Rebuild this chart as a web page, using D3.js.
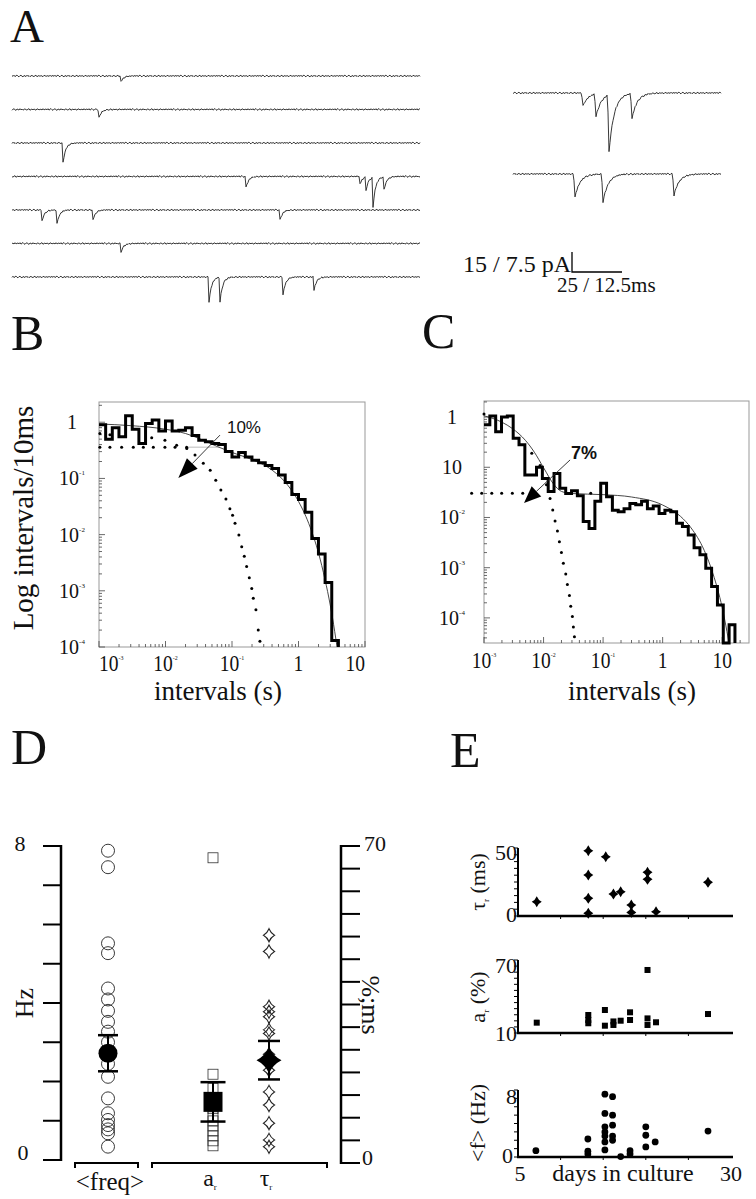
<!DOCTYPE html>
<html><head><meta charset="utf-8">
<script src="https://cdn.jsdelivr.net/npm/d3@7/dist/d3.min.js"></script>
<style>
html,body{margin:0;padding:0;background:#fff;}
svg{display:block}
</style></head><body>
<svg id="fig" width="756" height="1199" viewBox="0 0 756 1199"></svg>
<script>
// ======================= DATA =======================
// Panel A – spontaneous currents. Events: [row, peak time (ms), amplitude (pA)]
const leftTraceRows = [0,1,2,3,4,5,6];
const leftEvents = [
  [0,54.5,4.3],[1,43.5,6.2],[2,25.5,15],
  [3,117,8.3],[3,174,5.8],[3,177,9.8],[3,180.5,22.5],[3,186,9.8],
  [4,15,8.3],[4,22.5,10.5],[4,40.5,7.5],[4,134,7.5],
  [5,54.5,6.5],
  [6,98.5,18.8],[6,104,18.8],[6,135.5,13.5],[6,151,9.8]
];
const rightTraceRows = [0,1];
const rightEvents = [
  [0,17.5,4.9],[0,20.75,8.6],[0,24,21.4],[0,29.75,9.4],
  [1,15.5,8.6],[1,22.5,10.5],[1,40.25,7.9]
];
// baseline wiggle (pA), read as a short repeating pattern
const baselineNoise = [0.4,-0.3,0.6,-0.5,0.2,0.7,-0.2,-0.6,0.3,0.5,-0.1,-0.7,0.4,0.0,-0.4,0.6,-0.3,0.3,-0.5,0.1,
  0.5,-0.2,-0.4,0.2,0.6,-0.6,0.1,0.3,-0.3,0.4,-0.1,-0.5,0.5,0.2,-0.2,0.0,0.3,-0.4,0.6,-0.3,0.1];
const scaleBarText = ["15 / 7.5 pA", "25 / 12.5ms"];
const scaleBarPA = 15, scaleBarMS = 25;

// Panel B – interval histogram (log bins, 0.1 decade from 1 ms)
const bHistStartLog = -3, bHistStepLog = 0.1;
const bHist = [0.9,0.5,0.8,0.55,1.3,0.75,0.42,0.95,1.1,0.7,1.05,0.7,0.72,0.8,0.58,0.48,0.45,0.42,0.4,0.3,
  0.24,0.29,0.24,0.21,0.19,0.17,0.15,0.115,0.085,0.052,0.042,0.025,0.0085,0.0045,0.0014,0.00013];
const bFit = [[0.001,0.93],[0.003,0.87],[0.01,0.75],[0.02,0.63],[0.03,0.53],[0.06,0.37],[0.1,0.29],[0.2,0.216],
  [0.4,0.141],[0.7,0.074],[1,0.039],[1.5,0.0135],[2,0.0047],[2.5,0.0016],[3,0.00056],[3.5,0.00019],[3.8,0.0001]];
const bFastDots = [[0.00103,0.63],[0.00146,0.60],[0.0062,0.53],[0.0098,0.48],[0.0147,0.39],[0.0209,0.34],[0.0278,0.26],
  [0.037,0.186],[0.047,0.14],[0.057,0.093],[0.068,0.062],[0.081,0.043],[0.093,0.029],[0.102,0.022],[0.111,0.016],
  [0.127,0.0098],[0.14,0.0061],[0.153,0.0041],[0.166,0.0027],[0.182,0.0017],[0.198,0.0011],[0.209,0.00074],
  [0.229,0.00046],[0.248,0.0002],[0.263,0.000126]];
const bSlowDots = [[0.00103,0.36],[0.00146,0.36],[0.00219,0.36],[0.00328,0.36],[0.00464,0.36],[0.00656,0.36],
  [0.0098,0.36],[0.0139,0.36],[0.0208,0.36]];
const bSlowLine = [[0.0208,0.36],[0.066,0.36]];
const bXTicks = [1e-3,1e-2,1e-1,1,10];
const bXTickLabels = [["10","-3"],["10","-2"],["10","-1"],["1",""],["10",""]];
const bYTicks = [1,1e-1,1e-2,1e-3,1e-4];
const bYTickLabels = [["1",""],["10","-1"],["10","-2"],["10","-3"],["10","-4"]];
const bArrow = {from:[0.066,0.59], to:[0.0156,0.102], label:"10%", at:[0.084,0.64]};

// Panel C
const cHistStartLog = -3, cHistStepLog = 0.098;
const cHist = [0.7,1.05,0.51,1.0,1.05,0.38,0.28,0.07,0.07,0.1,0.06,0.033,0.075,0.038,0.03,0.034,0.027,0.0083,0.006,
  0.021,0.048,0.026,0.014,0.013,0.015,0.019,0.018,0.021,0.015,0.017,0.012,0.014,0.013,0.0077,0.0066,0.0045,
  0.0025,0.0018,0.00098,0.00042,0.00018,0,0.000073];
const cFit = [[0.001,1.06],[0.002,0.79],[0.003,0.59],[0.005,0.34],[0.007,0.2],[0.01,0.098],[0.015,0.045],[0.02,0.033],
  [0.03,0.030],[0.1,0.0285],[0.3,0.0256],[1,0.0177],[2,0.0105],[3,0.0062],[5,0.0022],[7,0.00076],[10,0.00016],
  [12,0.000054],[13,0.000032]];
const cFastDots = [[0.001,1.15],[0.00634,0.19],[0.00873,0.108],[0.0112,0.045],[0.01285,0.024],[0.01426,0.0141],
  [0.0156,0.0085],[0.0171,0.0054],[0.01845,0.0033],[0.01995,0.002],[0.0215,0.00123],[0.0236,0.00075],
  [0.0251,0.00046],[0.0272,0.00028],[0.0286,0.00017],[0.0305,0.000107],[0.0317,0.000066],[0.033,0.000042]];
const cSlowDots = [[0.00062,0.0304],[0.000915,0.0304],[0.00135,0.0304],[0.00198,0.0304],[0.00299,0.0304],
  [0.00447,0.0304],[0.062,0.0304]];
const cXTicks = [1e-3,1e-2,1e-1,1,10];
const cXTickLabels = [["10","-3"],["10","-2"],["10","-1"],["1",""],["10",""]];
const cYTicks = [1,1e-1,1e-2,1e-3,1e-4];
const cYTickLabels = [["1",""],["10",""],["10","-2"],["10","-3"],["10","-4"]];
const cArrow = {from:[0.0279,0.14], to:[0.0047,0.0195], label:"7%", at:[0.029,0.146]};

// Panel D – population summary
const dCategories = ["<freq>","a_r","tau_r"];
const dFreqHz = [7.88,7.46,5.52,5.27,4.37,4.09,3.80,3.52,3.27,3.0,2.75,2.45,2.12,1.57,1.19,1.02,0.89,0.78,0.68,0.34];
const dFreqMean = 2.72, dFreqSem = 0.46;
const dArPct = [67.4,19.6,16.5,14,12,10.2,9.3,8.2,7.1,6.0,4.9,3.8];
const dArMean = 13.5, dArSem = 4.35;
const dTauMs = [50.3,46.7,34.5,33.4,32.3,29.4,28.6,24,20.5,15.7,12.8,8.8,5.1,3.6];
const dTauMean = 22.7, dTauSem = 4.25;
const dLeftTicks = [0,1,2,3,4,5,6,7,8];
const dRightTicks = [0,5,10,15,20,25,30,35,40,45,50,55,60,65,70];

// Panel E – versus days in culture: [day, value]
const eTau = [[7.2,10.5],[13.25,48],[15.3,43.6],[13.25,30.1],[13.25,13],[13.25,2],[16.2,16.2],[17.05,17.9],
  [18.3,8.1],[18.3,2.5],[20.2,32.1],[20.2,27],[21.2,3.2],[27.3,24.8]];
const eAr = [[7.2,18.5],[13.25,24.8],[13.25,20.7],[13.25,18],[15.2,28.9],[15.2,16],[16.2,16.6],[16.2,19.5],
  [17.05,20.1],[18.15,27],[18.15,20.7],[20.2,61.8],[20.2,22],[20.2,16.6],[21.2,18.8],[27.3,25.6]];
const eFreq = [[7.1,0.76],[13.2,2.15],[13.2,0.7],[13.2,0.35],[15.2,7.5],[15.2,5.2],[15.2,3.6],[15.2,3.0],[15.2,2.5],
  [15.2,1.8],[15.2,0.84],[16.1,7.2],[16.1,5.0],[16.1,3.8],[16.1,2.5],[16.1,2.0],[17.05,0.05],[18.15,0.75],
  [18.15,0.36],[20.0,3.6],[20.0,2.6],[20.0,1.2],[21.1,1.8],[27.3,3.1]];
const eDayTicks = [10,15,20,25];

// ======================= DRAWING =======================
const svg = d3.select('#fig');
const SERIF = '"Liberation Serif","Times New Roman",Times,serif';
const SANS = '"Liberation Sans",Arial,Helvetica,sans-serif';
const INK = '#111';

function txt(g, s, x, y, size, o={}) {
  const t = g.append('text').attr('x',x).attr('y',y)
    .attr('font-family',o.family||SERIF).attr('font-size',size)
    .attr('fill',o.fill||INK).attr('text-anchor',o.anchor||'start');
  if (o.weight) t.attr('font-weight',o.weight);
  if (o.transform) t.attr('transform',o.transform);
  t.text(s);
  return t;
}
function supText(g, parts, x, y, size, anchor, sx) {
  const t = g.append('text').attr('font-family',SERIF).attr('font-size',size).attr('fill',INK)
    .attr('text-anchor',anchor).attr('transform',`translate(${x},${y}) scale(${sx||1},1)`);
  t.append('tspan').text(parts[0]);
  if (parts[1]) {
    t.append('tspan').attr('font-size',7).attr('dy',-size*0.5).text(parts[1]);
  }
  return t;
}
function concaveDiamond(w,h,c){
  return `M0,${-h}Q${w*c},${-h*c} ${w},0Q${w*c},${h*c} 0,${h}Q${-w*c},${h*c} ${-w},0Q${-w*c},${-h*c} 0,${-h}Z`;
}

// panel letters
const gL = svg.append('g');
txt(gL,'A',10,42,47);
[['B',11,350],['C',422,348],['D',11,764],['E',450,767]].forEach(d=>txt(gL,d[0],d[1],d[2],50));

// ---------- Panel A ----------
(function(){
  const g = svg.append('g');
  const xL = d3.scaleLinear([0,204],[12,420]);
  const yRowL = d3.scalePoint(leftTraceRows,[76,277]);
  const kL = 20/15;
  const xR = d3.scaleLinear([0,52],[513,721]);
  const yRowR = d3.scalePoint(rightTraceRows,[93,174]);
  const kR = 20/7.5;
  const RISE = 0.35, TAU = 1.3;
  function values(events,row,tEnd,dt,off,nScale){
    const pts=[]; let i=0;
    for (let t=0; t<=tEnd+1e-9; t+=dt, i++){
      let v = baselineNoise[(i+off)%baselineNoise.length]*nScale;
      for (const e of events){
        if (e[0]!==row) continue;
        const d = t-(e[1]-RISE);
        if (d>=0) v -= e[2]*(d<RISE ? d/RISE : Math.exp(-(d-RISE)/TAU));
      }
      pts.push([t,v]);
    }
    return pts;
  }
  leftTraceRows.forEach((r,ri)=>{
    const y0 = yRowL(r);
    const line = d3.line().x(d=>xL(d[0])).y(d=>y0-d[1]*kL);
    g.append('path').attr('d',line(values(leftEvents,r,204,0.5,ri*7,1))).attr('fill','none')
      .attr('stroke','#222').attr('stroke-width',0.9);
  });
  rightTraceRows.forEach((r,ri)=>{
    const y0 = yRowR(r);
    const line = d3.line().x(d=>xR(d[0])).y(d=>y0-d[1]*kR);
    g.append('path').attr('d',line(values(rightEvents,r,52,0.25,ri*11+3,0.5))).attr('fill','none')
      .attr('stroke','#222').attr('stroke-width',0.9);
  });
  // scale bar
  const bx = 572, by = 272;
  const hLen = xL(scaleBarMS)-xL(0), vLen = scaleBarPA*kL;
  g.append('path').attr('d',`M${bx},${by-vLen}V${by}H${bx+hLen}`).attr('fill','none').attr('stroke','#000').attr('stroke-width',1.3);
  txt(g,scaleBarText[0],bx-1,by,24,{anchor:'end'});
  txt(g,scaleBarText[1],557,292,21);
})();

// ---------- Panels B & C ----------
function logPanel(o){
  const g = svg.append('g');
  const xs=o.x, ys=o.y;
  const [x0,x1]=xs.range(), [y0,y1]=ys.range();
  g.append('rect').attr('x',x0).attr('y',y1).attr('width',x1-x0).attr('height',y0-y1)
    .attr('fill','none').attr('stroke','#999').attr('stroke-width',1);
  const isMajor = v => Math.abs(Math.log10(v)-Math.round(Math.log10(v)))<1e-6;
  xs.ticks().forEach(v=>{
    const X=xs(v); if (X<x0-0.5||X>x1+0.5) return;
    g.append('line').attr('x1',X).attr('x2',X).attr('y1',y0).attr('y2',y0-(isMajor(v)?6:3))
      .attr('stroke','#444').attr('stroke-width',0.8);
  });
  ys.ticks().forEach(v=>{
    const Y=ys(v); if (Y<y1-0.5||Y>y0+0.5) return;
    g.append('line').attr('x1',x0).attr('x2',x0+(isMajor(v)?6:3)).attr('y1',Y).attr('y2',Y)
      .attr('stroke','#444').attr('stroke-width',0.8);
  });
  o.xTicks.forEach((v,i)=>{
    let anchor='middle', X=xs(v);
    if (o.clampEnds && i===0) anchor='start';
    if (o.clampEnds && i===o.xTicks.length-1) anchor='end';
    supText(g,o.xLabels[i],X,o.xLabelY,23,anchor,0.85);
  });
  o.yTicks.forEach((v,i)=>{
    supText(g,o.yLabels[i],o.yLabelX,ys(v)+7,20,'middle',1);
  });
  const floor = ys.domain()[0];
  const yv = v => v>floor ? ys(v) : y0;
  if (o.slowLine) g.append('path').attr('d',d3.line().x(d=>xs(d[0])).y(d=>ys(d[1]))(o.slowLine))
    .attr('stroke','#aaa').attr('stroke-width',0.8).attr('fill','none');
  g.append('path').attr('d',d3.line().x(d=>xs(d[0])).y(d=>yv(d[1])).curve(d3.curveMonotoneX)(o.fit))
    .attr('fill','none').attr('stroke','#333').attr('stroke-width',0.9);
  const pts = o.hist.map((v,i)=>[Math.pow(10,o.hs+i*o.hstep),v]);
  const lastEdge = Math.pow(10,o.hs+o.hist.length*o.hstep);
  pts.push([lastEdge,o.hist[o.hist.length-1]]);
  pts.push([lastEdge,0]);
  g.append('path').attr('d',d3.line().x(d=>xs(d[0])).y(d=>yv(d[1])).curve(d3.curveStepAfter)(pts))
    .attr('fill','none').attr('stroke','#000').attr('stroke-width',3).attr('stroke-linejoin','miter');
  g.selectAll(null).data(o.fast.concat(o.slow)).join('circle')
    .attr('cx',d=>xs(d[0])).attr('cy',d=>ys(d[1])).attr('r',1.5).attr('fill','#000');
  const a=o.arrow;
  const fx=xs(a.from[0]), fy=ys(a.from[1]), tx=xs(a.to[0]), ty=ys(a.to[1]);
  const L=Math.hypot(tx-fx,ty-fy), ux=(tx-fx)/L, uy=(ty-fy)/L;
  const bxc=tx-ux*o.headL, byc=ty-uy*o.headL, nx=-uy, ny=ux, hw=o.headW/2;
  g.append('line').attr('x1',fx).attr('y1',fy).attr('x2',bxc).attr('y2',byc).attr('stroke','#222').attr('stroke-width',0.9);
  g.append('path').attr('d',`M${tx},${ty}L${bxc+nx*hw},${byc+ny*hw}L${bxc-nx*hw},${byc-ny*hw}Z`).attr('fill','#000');
  txt(g,a.label,xs(a.at[0]),ys(a.at[1]),o.labelSize,{family:SANS,weight:o.labelWeight});
  txt(g,'intervals (s)',o.titleX,700,27,{anchor:'middle'});
  return g;
}
logPanel({
  x:d3.scaleLog([1e-3,10],[99,365]), y:d3.scaleLog([1e-4,Math.pow(10,0.36)],[647,402]),
  hist:bHist, hs:bHistStartLog, hstep:bHistStepLog, fit:bFit, fast:bFastDots, slow:bSlowDots, slowLine:bSlowLine,
  xTicks:bXTicks, xLabels:bXTickLabels, yTicks:bYTicks, yLabels:bYTickLabels, xLabelY:671, yLabelX:72,
  clampEnds:true, arrow:bArrow, headL:20, headW:15, labelSize:17, labelWeight:'normal', titleX:218
});
logPanel({
  x:d3.scaleLog([1e-3,Math.pow(10,1.45)],[484,749]), y:d3.scaleLog([Math.pow(10,-4.5),Math.pow(10,0.32)],[643,401]),
  hist:cHist, hs:cHistStartLog, hstep:cHistStepLog, fit:cFit, fast:cFastDots, slow:cSlowDots, slowLine:null,
  xTicks:cXTicks, xLabels:cXTickLabels, yTicks:cYTicks, yLabels:cYTickLabels, xLabelY:668, yLabelX:452,
  clampEnds:false, arrow:cArrow, headL:17, headW:14, labelSize:18, labelWeight:'bold', titleX:632
});
txt(svg,'Log intervals/10ms',33,518,29,{anchor:'middle',transform:'rotate(-90,33,518)'});

// ---------- Panel D ----------
(function(){
  const g = svg.append('g');
  const yL = d3.scaleLinear([0,8],[1160,846]);
  const yR = d3.scaleLinear([0,70],[1163,846]);
  const xc = d3.scaleOrdinal(dCategories,[108,213,269]);
  g.append('line').attr('x1',61).attr('x2',61).attr('y1',yL(8)-1).attr('y2',yL(0)+1).attr('stroke','#000').attr('stroke-width',2.5);
  dLeftTicks.forEach(v=>g.append('line').attr('x1',43).attr('x2',61).attr('y1',yL(v)).attr('y2',yL(v)).attr('stroke','#000').attr('stroke-width',2));
  txt(g,'8',20,yL(8)+5,22,{anchor:'middle'});
  txt(g,'0',23,yL(0),22,{anchor:'middle'});
  txt(g,'Hz',33,1003,26,{anchor:'middle',transform:'rotate(-90,33,1003)'});
  g.append('line').attr('x1',341).attr('x2',341).attr('y1',yR(70)-1).attr('y2',yR(0)+1).attr('stroke','#000').attr('stroke-width',2.5);
  dRightTicks.forEach(v=>g.append('line').attr('x1',341).attr('x2',360).attr('y1',yR(v)).attr('y2',yR(v)).attr('stroke','#000').attr('stroke-width',2));
  txt(g,'70',364,yR(70)+5,22);
  txt(g,'0',362,yR(0)+2,22);
  txt(g,'%;ms',362,1005,26,{anchor:'middle',transform:'rotate(90,362,1005)'});
  g.append('path').attr('d','M75,1168V1163H138V1168').attr('fill','none').attr('stroke','#000').attr('stroke-width',2);
  g.append('path').attr('d','M152,1168V1163H327V1168').attr('fill','none').attr('stroke','#000').attr('stroke-width',2);
  txt(g,'<freq>',110,1190,25,{anchor:'middle'});
  [['a',xc('a_r')],['τ',xc('tau_r')]].forEach(([s,x])=>{
    const t=g.append('text').attr('x',x-3).attr('y',1186).attr('font-family',SERIF).attr('font-size',24).attr('fill',INK).attr('text-anchor','middle');
    t.append('tspan').text(s);
    t.append('tspan').attr('font-size',9).attr('dy',4).text('r');
  });
  g.selectAll(null).data(dFreqHz).join('circle').attr('cx',xc('<freq>')).attr('cy',d=>yL(d)).attr('r',6.5)
    .attr('fill','none').attr('stroke','#222').attr('stroke-width',0.9);
  g.append('circle').attr('cx',xc('<freq>')).attr('cy',yL(dFreqMean)).attr('r',9.5).attr('fill','#000');
  function errBar(x,y,mean,sem,w){
    g.append('line').attr('x1',x).attr('x2',x).attr('y1',y(mean+sem)).attr('y2',y(mean-sem)).attr('stroke','#000').attr('stroke-width',2);
    [mean+sem,mean-sem].forEach(v=>g.append('line').attr('x1',x-w/2).attr('x2',x+w/2).attr('y1',y(v)).attr('y2',y(v)).attr('stroke','#000').attr('stroke-width',2.5));
  }
  errBar(xc('<freq>'),yL,dFreqMean,dFreqSem,20);
  g.selectAll(null).data(dArPct).join('rect').attr('x',xc('a_r')-5).attr('y',d=>yR(d)-5).attr('width',10).attr('height',10)
    .attr('fill','none').attr('stroke','#333').attr('stroke-width',0.8);
  g.append('rect').attr('x',xc('a_r')-9.5).attr('y',yR(dArMean)-10).attr('width',19).attr('height',20).attr('fill','#000');
  errBar(xc('a_r'),yR,dArMean,dArSem,25);
  g.selectAll(null).data(dTauMs).join('path').attr('transform',d=>`translate(${xc('tau_r')},${yR(d)})`)
    .attr('d',concaveDiamond(5.5,6.5,0.32)).attr('fill','none').attr('stroke','#222').attr('stroke-width',1.1);
  g.append('path').attr('transform',`translate(${xc('tau_r')},${yR(dTauMean)})`).attr('d',concaveDiamond(12.5,13,0.33)).attr('fill','#000');
  errBar(xc('tau_r'),yR,dTauMean,dTauSem,22);
})();

// ---------- Panel E ----------
(function(){
  const g = svg.append('g');
  const x = d3.scaleLinear([5,30],[518,731]);
  const panels = [
    {data:eTau, y:d3.scaleLinear([0,50],[916,848]), minor:5, top:'50', bot:'0', topY:860, botY:922, title:['τ','r',' (ms)'], tY:882, mark:'star'},
    {data:eAr, y:d3.scaleLinear([10,70],[1033,960]), minor:5, top:'70', bot:'10', topY:973, botY:1041, title:['a','r',' (%)'], tY:997, mark:'square'},
    {data:eFreq, y:d3.scaleLinear([0,8],[1157,1090]), minor:1, top:'8', bot:'0', topY:1104, botY:1163, title:['<f> (Hz)','',''], tY:1123, mark:'circle'}
  ];
  panels.forEach(p=>{
    const [d0,d1]=p.y.domain(); const yb=p.y(d0), yt=p.y(d1);
    g.append('line').attr('x1',518).attr('x2',518).attr('y1',yt).attr('y2',yb).attr('stroke','#000').attr('stroke-width',2);
    g.append('line').attr('x1',517).attr('x2',733).attr('y1',yb).attr('y2',yb).attr('stroke','#000').attr('stroke-width',2.5);
    d3.range(d0,d1+1e-9,p.minor).forEach(v=>g.append('line').attr('x1',514).attr('x2',518).attr('y1',p.y(v)).attr('y2',p.y(v)).attr('stroke','#000').attr('stroke-width',1));
    eDayTicks.forEach(dd=>g.append('line').attr('x1',x(dd)).attr('x2',x(dd)).attr('y1',yb).attr('y2',yb+3).attr('stroke','#000').attr('stroke-width',1));
    txt(g,p.top,517,p.topY,22,{anchor:'end'});
    txt(g,p.bot,p.bot==='0'&&p.mark==='circle'?513:517,p.botY,22,{anchor:'end'});
    const t=g.append('text').attr('font-family',SERIF).attr('font-size',22).attr('fill',INK).attr('text-anchor','middle')
      .attr('transform',`translate(485,${p.tY}) rotate(-90)`);
    t.append('tspan').text(p.title[0]);
    if (p.title[1]) { t.append('tspan').attr('font-size',9).attr('dy',4).text(p.title[1]); t.append('tspan').attr('dy',-4).text(p.title[2]); }
    const sel = g.selectAll(null).data(p.data);
    if (p.mark==='star') sel.join('path').attr('transform',d=>`translate(${x(d[0])},${p.y(d[1])})`).attr('d',concaveDiamond(5,5.5,0.3)).attr('fill','#000');
    if (p.mark==='square') sel.join('rect').attr('x',d=>x(d[0])-3).attr('y',d=>p.y(d[1])-3).attr('width',6).attr('height',6).attr('fill','#000');
    if (p.mark==='circle') sel.join('circle').attr('cx',d=>x(d[0])).attr('cy',d=>p.y(d[1])).attr('r',3.4).attr('fill','#000');
  });
  txt(g,'5',x(5)+2,1181,22,{anchor:'middle'});
  txt(g,'30',x(30),1181,22,{anchor:'middle'});
  txt(g,'days in culture',623,1181,24,{anchor:'middle'});
})();
</script>
</body></html>
